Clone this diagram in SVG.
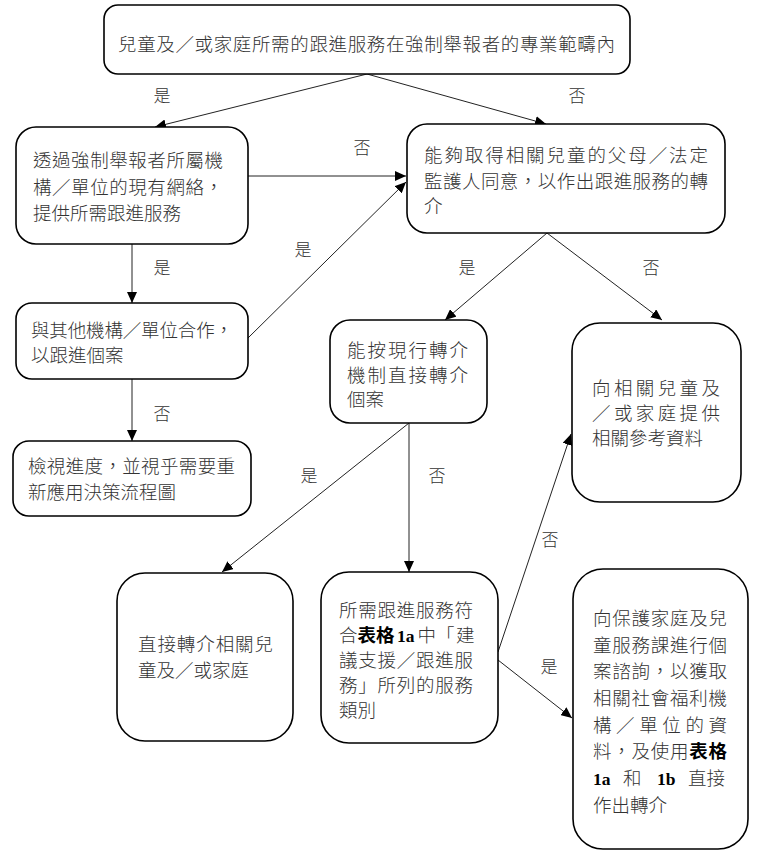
<svg xmlns="http://www.w3.org/2000/svg" width="759" height="855" viewBox="0 0 759 855">
<defs>
<marker id="arr" markerUnits="userSpaceOnUse" markerWidth="12" markerHeight="10" refX="11" refY="5" orient="auto">
<path d="M0,0 L11,5 L0,10 Z" fill="#000"/>
</marker>
<style>
.box{fill:#fff;stroke:#000;stroke-width:1.6}
.t{font-family:"Noto Sans CJK TC","Noto Sans CJK SC",sans-serif;font-size:18.5px;font-weight:300;fill:#333}
.b{font-weight:bold;fill:#000}
.s{font-family:"Liberation Serif",serif;font-size:17.5px;font-weight:bold;fill:#000}
.lbl{font-family:"Noto Sans CJK TC","Noto Sans CJK SC",sans-serif;font-size:17px;font-weight:300;fill:#333;text-anchor:middle}
.c{stroke:#222;stroke-width:1;fill:none;marker-end:url(#arr)}
</style>
</defs>
<rect width="759" height="855" fill="#fff"/>

<g id="connectors">
<line class="c" x1="367" y1="74" x2="155" y2="127"/>
<line class="c" x1="367" y1="74" x2="546" y2="124"/>
<line class="c" x1="248" y1="176" x2="406" y2="176"/>
<line class="c" x1="248" y1="338" x2="406" y2="182"/>
<line class="c" x1="132" y1="244" x2="132" y2="303"/>
<line class="c" x1="132" y1="379" x2="132" y2="441"/>
<line class="c" x1="547" y1="233" x2="445" y2="320"/>
<line class="c" x1="547" y1="233" x2="662" y2="320"/>
<line class="c" x1="409" y1="423" x2="222" y2="572"/>
<line class="c" x1="409" y1="423" x2="409" y2="572"/>
<line class="c" x1="498" y1="652" x2="571" y2="434"/>
<line class="c" x1="498" y1="660" x2="572" y2="718"/>
<text class="lbl" x="162" y="102">是</text>
<text class="lbl" x="577" y="102">否</text>
<text class="lbl" x="362" y="154">否</text>
<text class="lbl" x="303" y="256">是</text>
<text class="lbl" x="162" y="274">是</text>
<text class="lbl" x="162" y="420">否</text>
<text class="lbl" x="467" y="274">是</text>
<text class="lbl" x="651" y="274">否</text>
<text class="lbl" x="309" y="482">是</text>
<text class="lbl" x="437" y="482">否</text>
<text class="lbl" x="550" y="546">否</text>
<text class="lbl" x="549" y="673">是</text>
</g>

<g id="n1">
<rect class="box" x="104" y="5" width="526" height="69" rx="14"/>
<text class="t" x="118" y="51" textLength="497" lengthAdjust="spacing">兒童及／或家庭所需的跟進服務在強制舉報者的專業範疇內</text>
</g>

<g id="n2">
<rect class="box" x="16" y="127" width="232" height="117" rx="20"/>
<text class="t" x="33" y="167" textLength="190" lengthAdjust="spacing">透過強制舉報者所屬機</text>
<text class="t" x="33" y="194" textLength="190" lengthAdjust="spacing">構／單位的現有網絡，</text>
<text class="t" x="33" y="220">提供所需跟進服務</text>
</g>

<g id="n3">
<rect class="box" x="407" y="124" width="318" height="109" rx="20"/>
<text class="t" x="424" y="162" textLength="284" lengthAdjust="spacing">能夠取得相關兒童的父母／法定</text>
<text class="t" x="424" y="188" textLength="284" lengthAdjust="spacing">監護人同意，以作出跟進服務的轉</text>
<text class="t" x="424" y="213">介</text>
</g>

<g id="n4">
<rect class="box" x="16" y="303" width="232" height="76" rx="16"/>
<text class="t" x="31" y="337" textLength="202" lengthAdjust="spacing">與其他機構／單位合作，</text>
<text class="t" x="31" y="362">以跟進個案</text>
</g>

<g id="n5">
<rect class="box" x="13" y="441" width="238" height="75" rx="16"/>
<text class="t" x="28" y="473" textLength="207" lengthAdjust="spacing">檢視進度，並視乎需要重</text>
<text class="t" x="28" y="499">新應用決策流程圖</text>
</g>

<g id="n6">
<rect class="box" x="330" y="320" width="157" height="103" rx="20"/>
<text class="t" x="347" y="357" textLength="121" lengthAdjust="spacing">能按現行轉介</text>
<text class="t" x="347" y="382" textLength="121" lengthAdjust="spacing">機制直接轉介</text>
<text class="t" x="347" y="406">個案</text>
</g>

<g id="n7">
<rect class="box" x="572" y="323" width="169" height="179" rx="28"/>
<text class="t" x="592" y="395" textLength="128" lengthAdjust="spacing">向相關兒童及</text>
<text class="t" x="592" y="420" textLength="128" lengthAdjust="spacing">／或家庭提供</text>
<text class="t" x="592" y="445">相關參考資料</text>
</g>

<g id="n8">
<rect class="box" x="117" y="573" width="176" height="168" rx="28"/>
<text class="t" x="138" y="651" textLength="135" lengthAdjust="spacing">直接轉介相關兒</text>
<text class="t" x="138" y="677">童及／或家庭</text>
</g>

<g id="n9">
<rect class="box" x="321" y="572" width="177" height="171" rx="28"/>
<text class="t" x="339" y="617" textLength="134" lengthAdjust="spacing">所需跟進服務符</text>
<text class="t" y="642"><tspan x="339">合</tspan><tspan class="b" x="357.5">表格</tspan><tspan class="s" x="397">1a</tspan><tspan x="417.5">中「</tspan><tspan x="456">建</tspan></text>
<text class="t" x="339" y="667" textLength="134" lengthAdjust="spacing">議支援／跟進服</text>
<text class="t" x="339" y="692" textLength="134" lengthAdjust="spacing">務」所列的服務</text>
<text class="t" x="339" y="717">類別</text>
</g>

<g id="n10">
<rect class="box" x="573" y="569" width="175" height="280" rx="30"/>
<text class="t" x="593" y="625" textLength="134" lengthAdjust="spacing">向保護家庭及兒</text>
<text class="t" x="593" y="652" textLength="134" lengthAdjust="spacing">童服務課進行個</text>
<text class="t" x="593" y="678" textLength="134" lengthAdjust="spacing">案諮詢，以獲取</text>
<text class="t" x="593" y="705" textLength="134" lengthAdjust="spacing">相關社會福利機</text>
<text class="t" x="593" y="732" textLength="134" lengthAdjust="spacing">構／單位的資</text>
<text class="t" x="593" y="758" textLength="134" lengthAdjust="spacing">料，及使用<tspan class="b">表格</tspan></text>
<text class="t" y="785"><tspan class="s" x="593">1a</tspan><tspan x="623">和</tspan><tspan class="s" x="657">1b</tspan><tspan x="688">直接</tspan></text>
<text class="t" x="593" y="812">作出轉介</text>
</g>
</svg>
